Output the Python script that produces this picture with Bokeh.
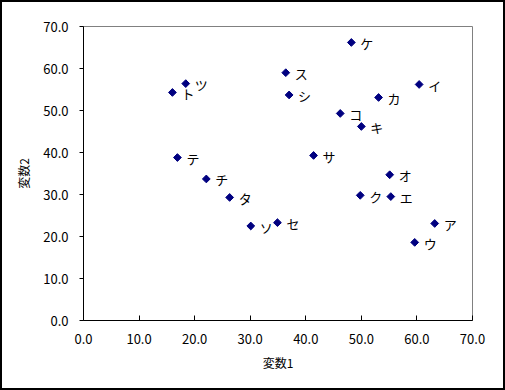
import math
from bokeh.plotting import figure
from bokeh.models import Range1d, ColumnDataSource, SingleIntervalTicker, PrintfTickFormatter
from bokeh.core.properties import value
from bokeh.embed import file_html
from bokeh.resources import INLINE

names = ["ア", "イ", "ウ", "エ", "オ", "カ", "キ", "ク", "ケ", "コ",
         "サ", "シ", "ス", "セ", "ソ", "タ", "チ", "ツ", "テ", "ト"]
var1 = [63.2, 60.4, 59.6, 55.3, 55.1, 53.1, 50.0, 49.8, 48.2, 46.2,
        41.4, 37.0, 36.4, 34.9, 30.1, 26.3, 22.1, 18.4, 16.9, 16.0]
var2 = [23.1, 56.2, 18.6, 29.5, 34.7, 53.1, 46.2, 29.8, 66.2, 49.3,
        39.3, 53.7, 59.0, 23.3, 22.5, 29.3, 33.7, 56.4, 38.8, 54.3]
x_label = "変数1"
y_label = "変数2"

src = ColumnDataSource(dict(x=var1, y=var2, name=names))

# 2px black chart border drawn by CSS
p = figure(width=501, height=386, output_backend="svg", toolbar_location=None,
           x_range=Range1d(0, 70), y_range=Range1d(0, 70),
           min_border_left=81, min_border_right=35, min_border_top=24, min_border_bottom=72)
p.styles = {"border": "2px solid black", "box-sizing": "content-box"}
p.background_fill_color = "white"
p.border_fill_color = "white"
p.outline_line_color = "#808080"
p.outline_line_width = 1
p.grid.visible = False

tick_font = "Noto Sans CJK JP"
for ax in (p.xaxis, p.yaxis):
    ax.ticker = SingleIntervalTicker(interval=10, num_minor_ticks=0)
    ax.formatter = PrintfTickFormatter(format="%.1f")
    ax.axis_line_color = "black"
    ax.major_tick_line_color = "black"
    ax.minor_tick_line_color = None
    ax.major_label_text_font = tick_font
    ax.major_label_text_font_size = "13px"
    ax.major_label_text_color = "black"
    ax.axis_label_text_font = tick_font
    ax.axis_label_text_font_size = "12px"
    ax.axis_label_text_font_style = "normal"
    ax.axis_label_text_color = "black"

p.xaxis.major_tick_in = 5
p.xaxis.major_tick_out = 0
p.xaxis.major_label_standoff = 13
p.xaxis.axis_label = x_label
p.xaxis.axis_label_standoff = 7

p.yaxis.major_tick_in = 0
p.yaxis.major_tick_out = 4
p.yaxis.major_label_standoff = 11
p.yaxis.axis_label = y_label
p.yaxis.axis_label_standoff = 8

p.scatter("x", "y", source=src, marker="square", size=5.5, angle=math.pi / 4,
          fill_color="#000080", line_color="#000080", line_width=1)
p.text("x", "y", text="name", source=src, x_offset=9, y_offset=1,
       text_align="left", text_baseline="middle",
       text_font=value("Noto Sans CJK JP"), text_font_size="13px", text_color="black")

open("out.html", "w").write(file_html(p, INLINE))
